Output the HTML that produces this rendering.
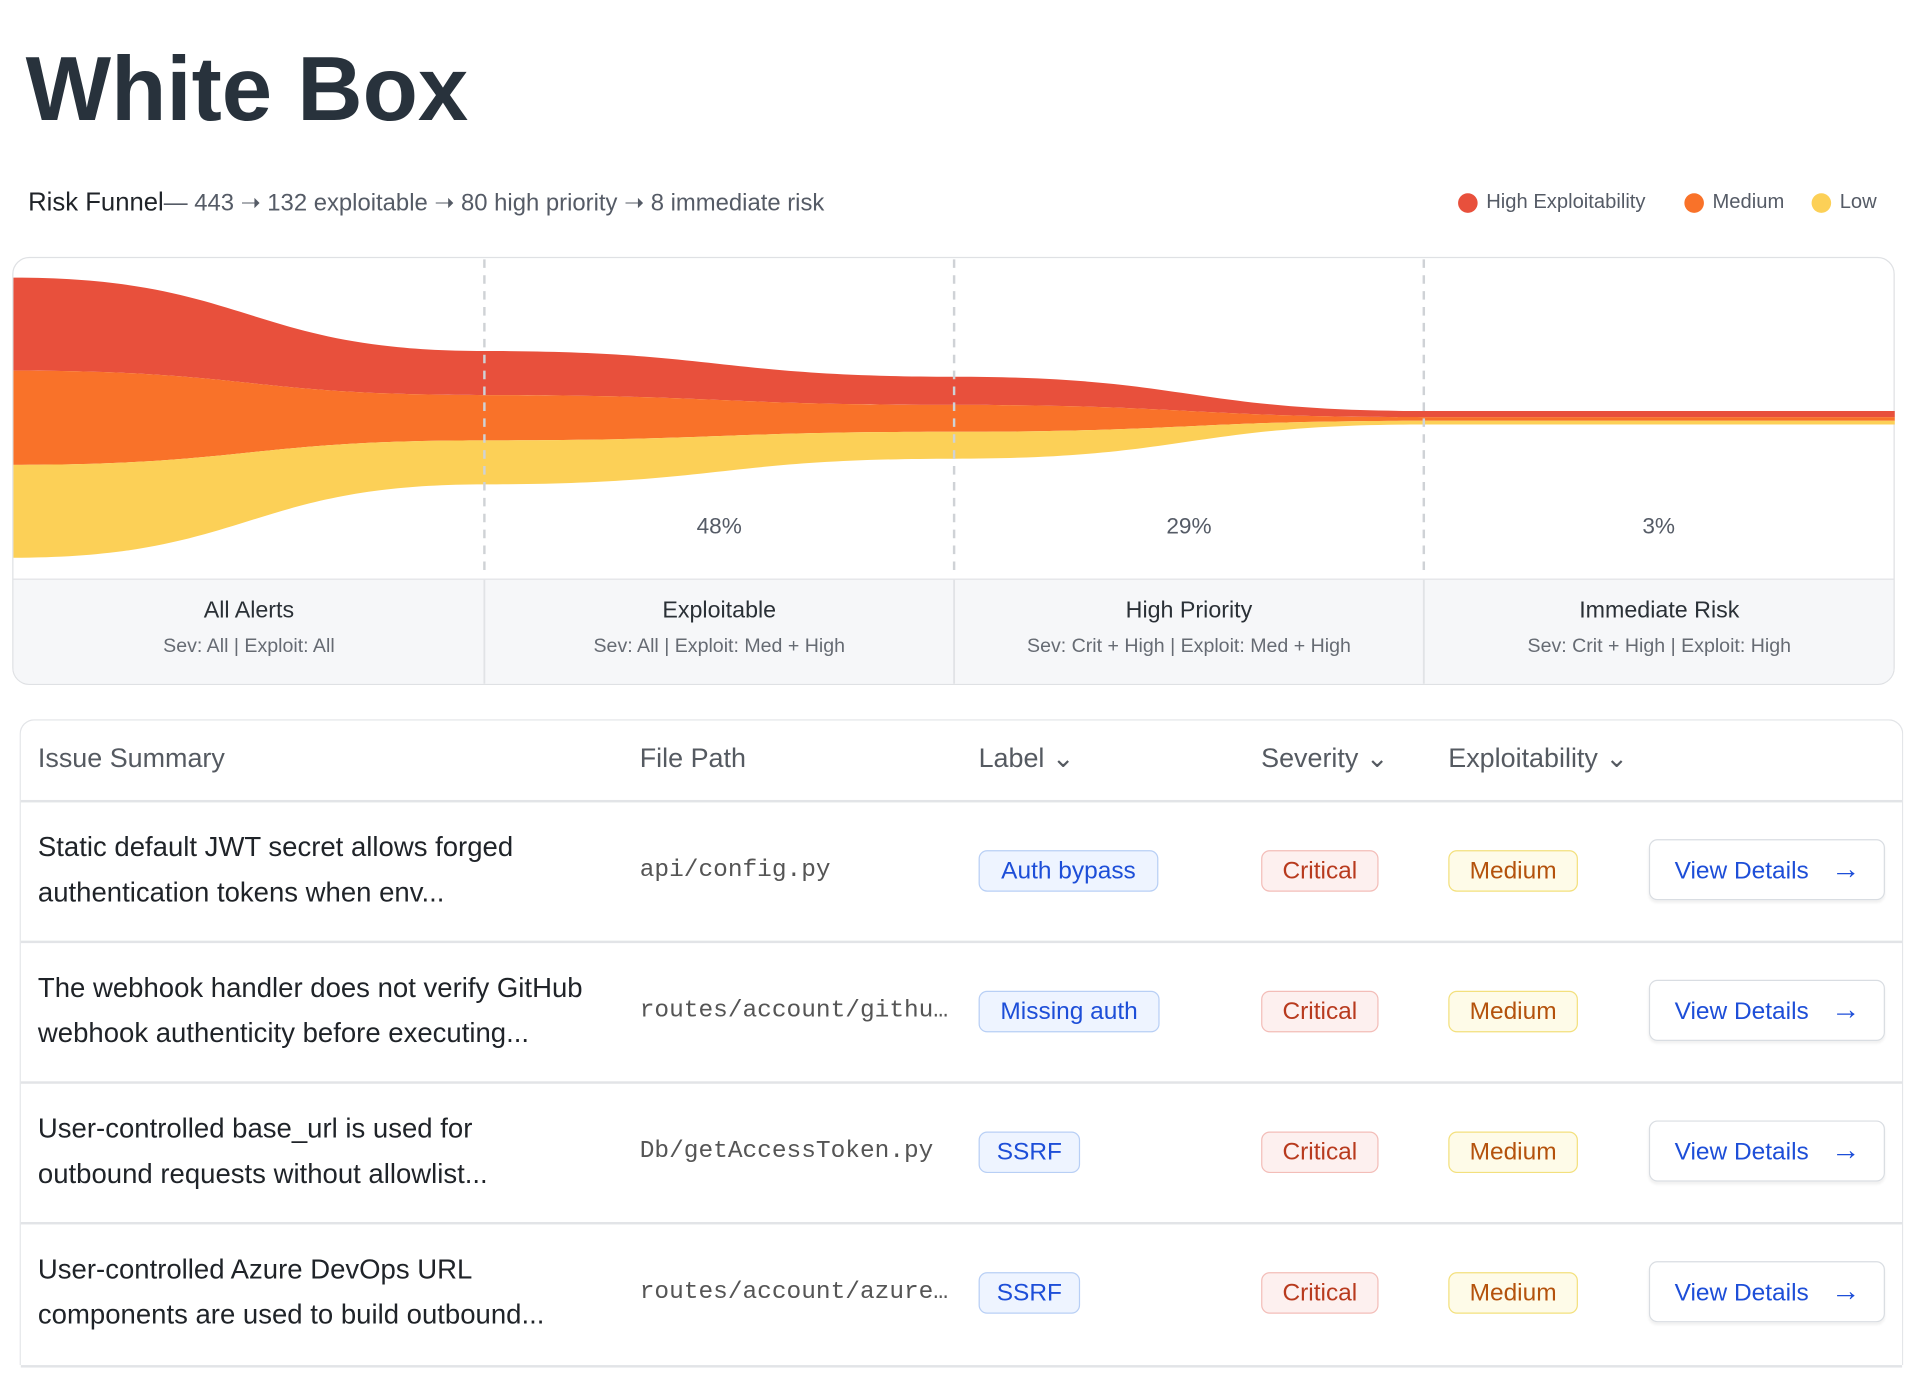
<!DOCTYPE html>
<html><head><meta charset="utf-8"><style>
html,body{margin:0;padding:0;background:#fff;width:1918px;height:1384px;overflow:hidden}
#w{position:absolute;left:0;top:0;width:1568px;height:1132px;transform:scale(1.22321);transform-origin:0 0;font-family:"Liberation Sans",sans-serif;color:#2a3540}
.a{position:absolute;white-space:nowrap}
.t{font-size:21px;color:#1f2328}
.g{color:#555b66}
.dot{position:absolute;width:16px;height:16px;border-radius:50%}
.lab{position:absolute;top:473px;height:86px;text-align:center}
.lab b{display:block;font-weight:normal;font-size:19px;color:#2a3036;margin-top:16px}
.lab span{display:block;font-size:16px;color:#666b73;margin-top:9px}
.hd{position:absolute;top:607px;font-size:22px;color:#555a61}
.row{position:absolute;left:17px;width:1538px;height:115px;border-top:2px solid #e2e4e7}
.sum{position:absolute;left:14px;top:18px;font-size:22.5px;line-height:37px;color:#1f2328}
.fp{position:absolute;left:506px;top:44px;font-family:"Liberation Mono",monospace;font-size:20px;color:#555}
.bd{position:absolute;top:39px;height:32px;line-height:32px;border-radius:7px;font-size:20px;text-align:center;border:1.5px solid}
.lb{background:#eef4ff;border-color:#b8cff5;color:#1d4ed8}
.cr{left:1014px;width:94px;background:#fdf0ef;border-color:#f3bdb8;color:#b83a1e}
.md{left:1167px;width:104px;background:#fefbe8;border-color:#f3e07d;color:#b4520c}
.btn{position:absolute;left:1331px;top:30px;width:193px;height:50px;border:1.5px solid #d9dde2;border-radius:7px;box-shadow:0 2px 2px rgba(0,0,0,.06);color:#1d4ed8;font-size:20px;line-height:50px;padding-left:20px;box-sizing:border-box}
.btn i{font-style:normal;font-size:24px;position:absolute;left:148px;top:-1px}
</style></head><body><div id="w">
<div class="a" style="left:21px;top:30px;font-size:74px;font-weight:bold;color:#28323c">White Box</div>
<div class="a" style="left:23px;top:154px;font-size:19.5px"><span class="t">Risk Funnel</span><span class="g">— 443 ➝ 132 exploitable ➝ 80 high priority ➝ 8 immediate risk</span></div>
<div class="dot" style="left:1192px;top:158px;background:#e8503c"></div><div class="a g" style="left:1215px;top:156px;font-size:16.5px">High Exploitability</div>
<div class="dot" style="left:1377px;top:158px;background:#f97229"></div><div class="a g" style="left:1400px;top:156px;font-size:16.5px">Medium</div>
<div class="dot" style="left:1481px;top:158px;background:#fcd057"></div><div class="a g" style="left:1504px;top:156px;font-size:16.5px">Low</div>

<div style="position:absolute;left:10px;top:210px;width:1537px;height:348px;border:1.5px solid #dfe1e4;border-radius:14px;overflow:hidden">
<div style="position:absolute;left:0;top:262px;width:100%;height:90px;background:#f6f7f9;border-top:1.5px solid #e1e3e6"></div>
</div>
<svg class="a" style="left:0;top:0" width="1568" height="600">
<path d="M11,227 C203,227 203,287 396,287 C588,287 588,308 780,308 C972,308 972,336 1164,336 L1549,336 L1549,341 L1164,341 C972,341 972,331 780,331 C588,331 588,323 396,323 C203,323 203,303 11,303Z" fill="#e8503c"/>
<path d="M11,303 C203,303 203,323 396,323 C588,323 588,331 780,331 C972,331 972,341 1164,341 L1549,341 L1549,344 L1164,344 C972,344 972,353 780,353 C588,353 588,360 396,360 C203,360 203,380 11,380Z" fill="#f97229"/>
<path d="M11,380 C203,380 203,360 396,360 C588,360 588,353 780,353 C972,353 972,344 1164,344 L1549,344 L1549,347 L1164,347 C972,347 972,375 780,375 C588,375 588,396 396,396 C203,396 203,456 11,456Z" fill="#fcd057"/>
<g stroke="#cfd2d6" stroke-width="2" stroke-dasharray="7,6"><line x1="396" y1="212" x2="396" y2="472"/><line x1="780" y1="212" x2="780" y2="472"/><line x1="1164" y1="212" x2="1164" y2="472"/></g>
<g stroke="#e1e3e6" stroke-width="1.5"><line x1="396" y1="474" x2="396" y2="559"/><line x1="780" y1="474" x2="780" y2="559"/><line x1="1164" y1="474" x2="1164" y2="559"/></g>
<g font-family="Liberation Sans" font-size="18.5" fill="#555b66" text-anchor="middle"><text x="588" y="436">48%</text><text x="972" y="436">29%</text><text x="1356" y="436">3%</text></g>
</svg>
<div class="lab" style="left:11px;width:385px"><b>All Alerts</b><span>Sev: All | Exploit: All</span></div>
<div class="lab" style="left:396px;width:384px"><b>Exploitable</b><span>Sev: All | Exploit: Med + High</span></div>
<div class="lab" style="left:780px;width:384px"><b>High Priority</b><span>Sev: Crit + High | Exploit: Med + High</span></div>
<div class="lab" style="left:1164px;width:385px"><b>Immediate Risk</b><span>Sev: Crit + High | Exploit: High</span></div>

<div style="position:absolute;left:16px;top:588px;width:1538px;height:527px;border:1.5px solid #e2e4e7;border-bottom:none;border-radius:12px 12px 0 0"></div>
<div class="hd" style="left:31px">Issue Summary</div>
<div class="hd" style="left:523px">File Path</div>
<div class="hd" style="left:800px">Label ⌄</div>
<div class="hd" style="left:1031px">Severity ⌄</div>
<div class="hd" style="left:1184px">Exploitability ⌄</div>

<div class="row" style="top:654px"><div class="sum">Static default JWT secret allows forged<br>authentication tokens when env...</div><div class="fp">api/config.py</div><div class="bd lb" style="left:783px;width:145px">Auth bypass</div><div class="bd cr">Critical</div><div class="bd md">Medium</div><div class="btn">View Details<i>→</i></div></div>
<div class="row" style="top:769px"><div class="sum">The webhook handler does not verify GitHub<br>webhook authenticity before executing...</div><div class="fp">routes/account/githu…</div><div class="bd lb" style="left:783px;width:146px">Missing auth</div><div class="bd cr">Critical</div><div class="bd md">Medium</div><div class="btn">View Details<i>→</i></div></div>
<div class="row" style="top:884px"><div class="sum">User-controlled base_url is used for<br>outbound requests without allowlist...</div><div class="fp">Db/getAccessToken.py</div><div class="bd lb" style="left:783px;width:81px">SSRF</div><div class="bd cr">Critical</div><div class="bd md">Medium</div><div class="btn">View Details<i>→</i></div></div>
<div class="row" style="top:999px;border-bottom:2px solid #e2e4e7"><div class="sum">User-controlled Azure DevOps URL<br>components are used to build outbound...</div><div class="fp">routes/account/azure…</div><div class="bd lb" style="left:783px;width:81px">SSRF</div><div class="bd cr">Critical</div><div class="bd md">Medium</div><div class="btn">View Details<i>→</i></div></div>
</div></body></html>
